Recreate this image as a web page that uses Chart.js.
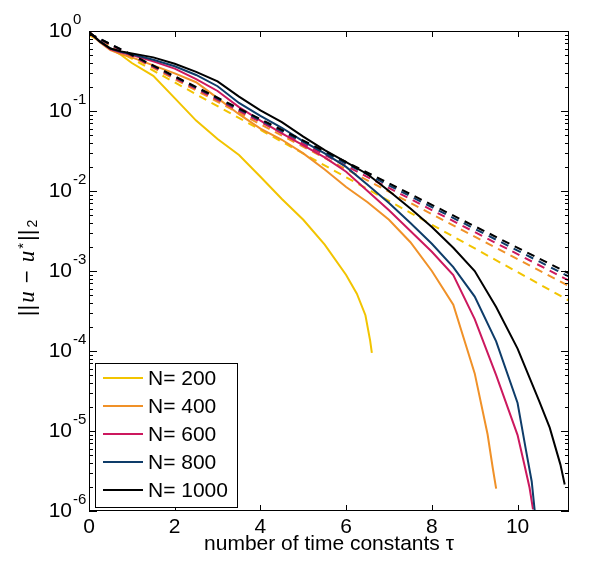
<!DOCTYPE html>
<html>
<head>
<meta charset="utf-8">
<script src="https://cdn.jsdelivr.net/npm/chart.js@4.4.0/dist/chart.umd.min.js"></script>
<style>
html, body { margin: 0; padding: 0; background: #fff; }
#wrap { width: 600px; height: 580px; }
</style>
</head>
<body>
<div id="wrap"><canvas id="myChart" width="600" height="580"></canvas></div>
<script>
// colours for each N
const COLOUR_200 = 'rgb(242, 196, 0)';
const COLOUR_400 = 'rgb(240, 145, 40)';
const COLOUR_600 = 'rgb(204, 24, 94)';
const COLOUR_800 = 'rgb(14, 60, 105)';
const COLOUR_1000 = '#000000';
const SANS = '"Liberation Sans", Arial, sans-serif';

const seriesNames = ['N= 200', 'N= 400', 'N= 600', 'N= 800', 'N= 1000'];
const xTicks = [0, 2, 4, 6, 8, 10];
const yTicks = [1e-6, 1e-5, 1e-4, 1e-3, 1e-2, 1e-1, 1];

// simulated error, solid lines
const tau200 = [0, 0.25, 0.5, 0.75, 1, 1.5, 2, 2.5, 3, 3.5, 4, 4.5, 5, 5.5, 6, 6.25, 6.45, 6.56, 6.6];
const err200 = [0.977, 0.741, 0.603, 0.501, 0.398, 0.275, 0.145, 0.0759, 0.0447, 0.0282, 0.0151, 0.00794, 0.00437, 0.00214, 8.9e-4, 5.2e-4, 2.8e-4, 1.35e-4, 9.5e-5];

const tau400 = [0, 0.25, 0.5, 0.75, 1, 1.5, 2, 2.5, 3, 3.5, 4, 4.5, 5, 5.5, 6, 6.5, 7, 7.5, 8, 8.5, 9, 9.3, 9.42, 9.5];
const err400 = [0.977, 0.724, 0.575, 0.513, 0.468, 0.372, 0.295, 0.229, 0.145, 0.0912, 0.0603, 0.0437, 0.0295, 0.0186, 0.0112, 0.00724, 0.00437, 0.00229, 0.001, 3.8e-4, 5.25e-5, 9.1e-6, 3.47e-6, 1.9e-6];

const tau600 = [0, 0.25, 0.5, 0.75, 1, 1.5, 2, 2.5, 3, 3.5, 4, 4.5, 5, 5.5, 6, 6.5, 7, 7.5, 8, 8.5, 9, 9.5, 10, 10.15, 10.28, 10.36];
const err600 = [0.977, 0.741, 0.589, 0.537, 0.501, 0.417, 0.339, 0.251, 0.178, 0.112, 0.0759, 0.0525, 0.0372, 0.0263, 0.0174, 0.01, 0.00575, 0.00316, 0.00174, 8.9e-4, 2.51e-4, 5.0e-5, 8.9e-6, 3.98e-6, 1.95e-6, 1.05e-6];

const tau800 = [0, 0.25, 0.5, 0.75, 1, 1.5, 2, 2.5, 3, 3.5, 4, 4.5, 5, 5.5, 6, 6.5, 7, 7.5, 8, 8.5, 9, 9.5, 10, 10.2, 10.33, 10.42];
const err800 = [0.977, 0.741, 0.603, 0.55, 0.513, 0.437, 0.363, 0.282, 0.204, 0.126, 0.0871, 0.0617, 0.0417, 0.0295, 0.02, 0.012, 0.00708, 0.00398, 0.00219, 0.00112, 4.79e-4, 1.32e-4, 2.24e-5, 5.6e-6, 2.34e-6, 7.9e-7];

const tau1000 = [0, 0.25, 0.5, 0.75, 1, 1.5, 2, 2.5, 3, 3.5, 4, 4.5, 5, 5.5, 6, 6.5, 7, 7.5, 8, 8.5, 9, 9.5, 10, 10.5, 10.75, 11, 11.1];
const err1000 = [0.977, 0.741, 0.603, 0.556, 0.525, 0.468, 0.389, 0.309, 0.234, 0.151, 0.102, 0.0724, 0.0479, 0.0324, 0.0229, 0.0162, 0.01, 0.00603, 0.00355, 0.00195, 0.001, 3.55e-4, 1.07e-4, 2.4e-5, 1.1e-5, 3.8e-6, 2.14e-6];

// exponential fits, dashed lines
const tauFit = [0, 11.2];
const fit200 = [0.891, 4.27e-4];
const fit400 = [0.912, 6.46e-4];
const fit600 = [0.923, 7.59e-4];
const fit800 = [0.933, 8.51e-4];
const fit1000 = [0.933, 9.33e-4];

const solid = [[tau200, err200], [tau400, err400], [tau600, err600], [tau800, err800], [tau1000, err1000]];
const dashed = [fit200, fit400, fit600, fit800, fit1000];
const colours = [COLOUR_200, COLOUR_400, COLOUR_600, COLOUR_800, COLOUR_1000];

const toPoints = (xs, ys) => xs.map((x, i) => ({ x: x, y: ys[i] }));

var datasets = [];
solid.forEach((s, i) => {
    datasets.push({
        label: seriesNames[i],
        data: toPoints(s[0], s[1]),
        borderColor: colours[i],
        borderWidth: 2,
        pointRadius: 0,
        fill: false,
        order: 20 - 2 * i
    });
    datasets.push({
        label: seriesNames[i] + ' fit',
        data: toPoints(tauFit, dashed[i]),
        borderColor: colours[i],
        borderWidth: 2,
        borderDash: [8, 6],
        pointRadius: 0,
        fill: false,
        order: 19 - 2 * i
    });
});

// box, inside ticks, y labels, legend
const matlabAxes = {
    id: 'matlabAxes',
    afterDatasetsDraw(chart) {
        const { ctx, chartArea: a, scales: { x, y } } = chart;
        ctx.save();
        ctx.strokeStyle = '#000';
        ctx.lineWidth = 1;
        ctx.strokeRect(a.left + 0.5, a.top + 0.5, a.right - a.left - 1, a.bottom - a.top - 1);

        ctx.beginPath();
        xTicks.forEach((v) => {
            const px = Math.round(x.getPixelForValue(v)) + 0.5;
            ctx.moveTo(px, a.bottom); ctx.lineTo(px, a.bottom - 6);
            ctx.moveTo(px, a.top); ctx.lineTo(px, a.top + 6);
        });
        yTicks.forEach((v, k) => {
            const py = Math.round(y.getPixelForValue(v)) + 0.5;
            ctx.moveTo(a.left, py); ctx.lineTo(a.left + 8, py);
            ctx.moveTo(a.right, py); ctx.lineTo(a.right - 8, py);
            if (k < yTicks.length - 1) {
                for (let m = 2; m <= 9; m++) {
                    const my = Math.round(y.getPixelForValue(v * m)) + 0.5;
                    ctx.moveTo(a.left, my); ctx.lineTo(a.left + 4, my);
                    ctx.moveTo(a.right, my); ctx.lineTo(a.right - 4, my);
                }
            }
        });
        ctx.stroke();

        // y tick labels 10^k
        ctx.fillStyle = '#000';
        yTicks.forEach((v) => {
            const py = y.getPixelForValue(v);
            ctx.font = '21px ' + SANS;
            ctx.textAlign = 'right';
            ctx.textBaseline = 'middle';
            ctx.fillText('10', a.left - 17, py);
            ctx.font = '15px ' + SANS;
            ctx.textAlign = 'left';
            ctx.fillText(String(Math.round(Math.log10(v))), a.left - 16, py - 11);
        });

        // y axis title ||u - u*||_2
        const parts = [
            { t: '||', f: '22px ' + SANS, dy: 0 },
            { t: 'u', f: 'italic 23px "Liberation Serif", serif', dy: 0 },
            { t: ' \u2212 ', f: '22px ' + SANS, dy: 0 },
            { t: 'u', f: 'italic 23px "Liberation Serif", serif', dy: 0 },
            { t: '*', f: '15px ' + SANS, dy: -6 },
            { t: '||', f: '22px ' + SANS, dy: 0 },
            { t: '2', f: '14px ' + SANS, dy: 3 }
        ];
        const gap = 2;
        let total = -gap;
        parts.forEach((p) => { ctx.font = p.f; p.w = ctx.measureText(p.t).width; total += p.w + gap; });
        ctx.translate(34, 268);
        ctx.rotate(-Math.PI / 2);
        ctx.textAlign = 'left';
        ctx.textBaseline = 'alphabetic';
        let cx = -total / 2;
        parts.forEach((p) => { ctx.font = p.f; ctx.fillText(p.t, cx, p.dy); cx += p.w + gap; });
        ctx.restore();

        // legend box in lower left
        ctx.save();
        const lx = a.left + 6, ly = a.bottom - 148, lw = 142, lh = 144;
        ctx.fillStyle = '#fff';
        ctx.fillRect(lx, ly, lw, lh);
        ctx.strokeStyle = '#000';
        ctx.lineWidth = 1;
        ctx.strokeRect(lx + 0.5, ly + 0.5, lw, lh);
        ctx.font = '21px ' + SANS;
        ctx.textAlign = 'left';
        ctx.textBaseline = 'middle';
        seriesNames.forEach((name, i) => {
            const ry = ly + 15 + i * 28;
            ctx.strokeStyle = colours[i];
            ctx.lineWidth = 2;
            ctx.beginPath();
            ctx.moveTo(lx + 8, ry); ctx.lineTo(lx + 48, ry);
            ctx.stroke();
            ctx.fillStyle = '#000';
            ctx.fillText(name, lx + 53, ry + 1);
        });
        ctx.restore();
    }
};

var ctx = document.getElementById('myChart');
var myChart = new Chart(ctx, {
    type: 'line',
    data: { datasets: datasets },
    options: {
        responsive: false,
        animation: false,
        layout: { padding: { left: 89, right: 31, top: 31, bottom: 0 } },
        plugins: { legend: { display: false }, tooltip: { enabled: false } },
        scales: {
            x: {
                type: 'linear',
                min: 0,
                max: 11.2,
                grid: { display: false, drawTicks: false },
                border: { display: false },
                afterBuildTicks: (scale) => { scale.ticks = xTicks.map((v) => ({ value: v })); },
                afterFit: (scale) => { scale.height = 69; },
                ticks: { color: '#000', font: { family: SANS, size: 21 }, padding: 4, maxRotation: 0 },
                title: {
                    display: true,
                    text: 'number of time constants \u03c4',
                    color: '#000',
                    font: { family: SANS, size: 21 },
                    padding: { top: 0, bottom: 23 }
                }
            },
            y: {
                type: 'logarithmic',
                display: false,
                min: 1e-6,
                max: 1
            }
        }
    },
    plugins: [matlabAxes]
});
</script>
</body>
</html>
